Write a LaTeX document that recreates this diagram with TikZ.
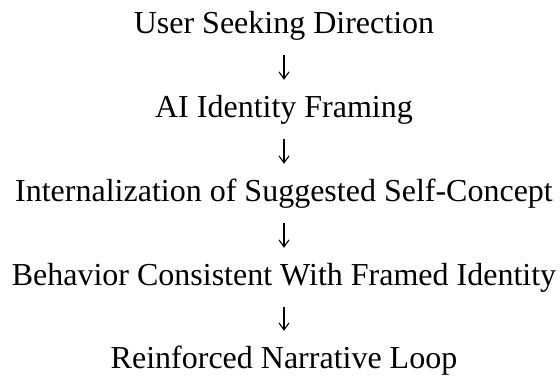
\documentclass[tikz,border=0pt]{standalone}
\usepackage{fontspec}
\setmainfont{Liberation Serif}
\usetikzlibrary{arrows.meta}
\tikzset{>={Straight Barb[length=7pt,width=10pt]}}

\begin{document}
\begin{tikzpicture}[
    x = 1pt, y = 1pt,
    stage/.style = {inner sep = 0pt, font = \fontsize{32}{38}\selectfont, text height = 22pt, text depth = 7.5pt},
    flow/.style = {->, line width = 1.1pt, shorten <= 14pt, shorten >= 15pt},
]

\useasboundingbox (0,0) rectangle (560,376);

\node[stage, anchor = base] (user) at (284, 343) {User Seeking Direction};
\node[stage, anchor = base] (framing) at (284, 259) {AI Identity Framing};
\node[stage, anchor = base] (intern) at (284, 175) {Internalization of Suggested Self-Concept};
\node[stage, anchor = base] (behavior) at (284, 91) {Behavior Consistent With Framed Identity};
\node[stage, anchor = base] (loop) at (284, 8) {Reinforced Narrative Loop};

\draw[flow] (user) -- (framing);
\draw[flow] (framing) -- (intern);
\draw[flow] (intern) -- (behavior);
\draw[flow] (behavior) -- (loop);

\end{tikzpicture}
\end{document}
